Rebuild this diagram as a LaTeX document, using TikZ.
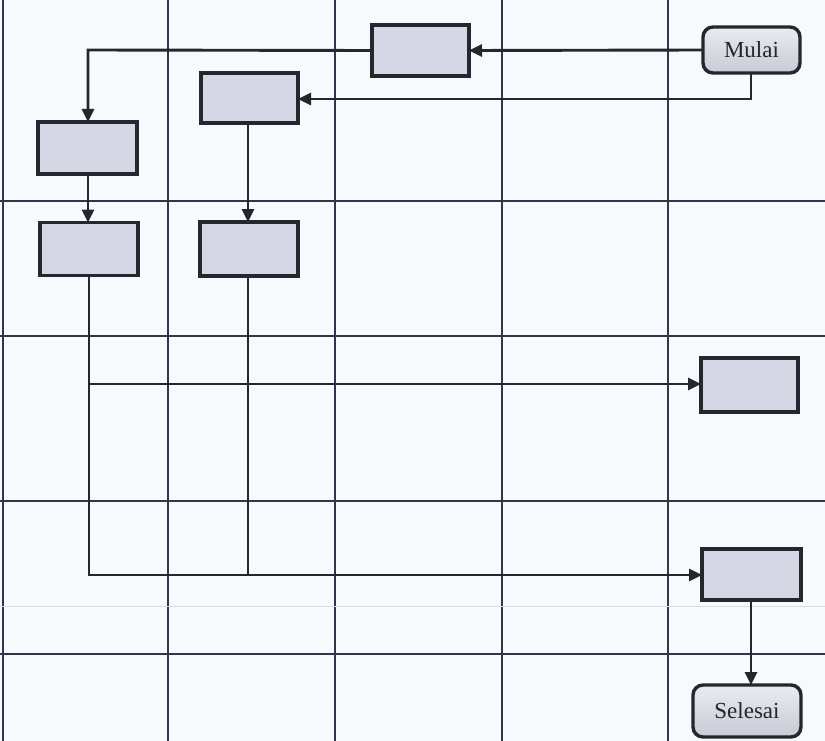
\documentclass[tikz,border=0pt]{standalone}
\usepackage{fontspec}
\setmainfont{Liberation Serif}
\usetikzlibrary{arrows.meta}
\definecolor{bgc}{HTML}{F6FAFC}
\definecolor{gridc}{HTML}{33364A}
\definecolor{boxfill}{HTML}{D5D8E4}
\definecolor{boxdraw}{HTML}{25272F}
\definecolor{faintc}{HTML}{D8DDE4}
\tikzset{
  procbox/.style={draw=boxdraw, line width=3.4pt, fill=boxfill, minimum width=97pt, minimum height=51pt, inner sep=0pt, outer sep=0pt},
  termbox/.style={draw=boxdraw, line width=3.4pt, top color=boxfill!50!white, bottom color=boxfill!85!gray, rounded corners=10pt, minimum width=97pt, minimum height=46pt, inner sep=0pt, outer sep=0pt, font=\fontsize{23}{25}\selectfont, text=black!85},
  gridline/.style={draw=gridc, line width=2.3pt},
  conn/.style={draw=boxdraw, line width=2.9pt},
  arr/.style={conn, -{Triangle[length=13pt, width=12pt]}}
}
\begin{document}
\begin{tikzpicture}[x=1pt, y=-1pt]
  \fill[bgc] (0,0) rectangle (825,741);
  \useasboundingbox (0,0) rectangle (825,741);
  % grid
  \foreach \gx in {3,168,335,502,668} {
    \draw[gridline] (\gx,0) -- (\gx,741);
  }
  \foreach \gy in {201,336,501,654} {
    \draw[gridline] (0,\gy) -- (825,\gy);
  }
  \draw[faintc, line width=0.8pt] (0,606) -- (825,606);
  % nodes
  \node[termbox] (mulai) at (751.5,50) {Mulai};
  \node[procbox] (a) at (420.5,50.5) {};
  \node[procbox, minimum height=50pt] (b) at (249.5,98) {};
  \node[procbox, minimum width=99pt, minimum height=52pt] (c) at (87.5,148) {};
  \node[procbox, minimum width=98pt, minimum height=53pt] (e) at (89,249) {};
  \node[procbox, minimum width=98pt, minimum height=54pt] (d) at (249,249) {};
  \node[procbox, minimum height=54pt] (f) at (749.5,385) {};
  \node[procbox, minimum width=99pt] (g) at (751.5,574.5) {};
  \node[termbox, minimum width=108pt, minimum height=52pt] (selesai) at (747,711) {Selesai};
  % coordinates
  \coordinate (ac) at (88,50);
  \coordinate (mb) at (751,99);
  \coordinate (ef) at (89,384);
  \coordinate (eg) at (89,575);
  \coordinate (dg) at (248,575);
  % connectors
  \draw[arr] (mulai.west) -- (a.east);
  \draw[arr] (mulai.south -| mb) -- (mb) -- (b.east |- mb);
  \draw[arr] (a.west) -- (ac) -- (c.north -| ac);
  \draw[arr] (c.south -| ac) -- (e.north -| ac);
  \draw[arr] (b.south -| dg) -- (d.north -| dg);
  \draw[conn] (e.south) -- (eg) -- (dg);
  \draw[arr] (ef) -- (f.west |- ef);
  \draw[arr] (dg) -- (g.west |- dg);
  \draw[conn] (d.south -| dg) -- (dg);
  \draw[arr] (g.south -| mb) -- (selesai.north -| mb);
\end{tikzpicture}
\end{document}
